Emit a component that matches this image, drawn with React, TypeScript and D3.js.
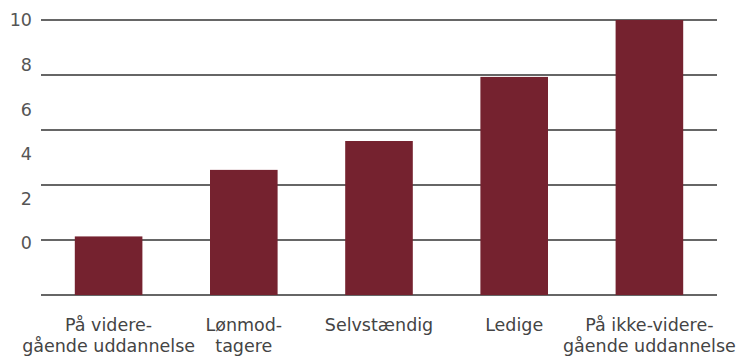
import React from "react";
import * as d3 from "d3";

const categories = [
  ["På videre-", "gående uddannelse"],
  ["Lønmod-", "tagere"],
  ["Selvstændig"],
  ["Ledige"],
  ["På ikke-videre-", "gående uddannelse"],
];
const values = [2.13, 4.55, 5.6, 7.93, 10];
const tickValues = [0, 2, 4, 6, 8, 10];

const W = 740;
const H = 356;
const FONT = "'DejaVu Sans', sans-serif";

export default function App() {
  const x = d3
    .scaleBand<number>()
    .domain(d3.range(categories.length))
    .range([41, 717])
    .paddingInner(0.5)
    .paddingOuter(0.25);
  const y = d3.scaleLinear().domain([0, 10]).range([295, 20]);
  const yLabel = d3.scaleLinear().domain([0, 10]).range([243, 20]);

  return (
    <svg
      width={W}
      height={H}
      style={{ position: "absolute", left: 0, top: 0, background: "#fff" }}
    >
      {tickValues.map((t) => (
        <line
          key={"g" + t}
          x1={41}
          x2={717}
          y1={y(t)}
          y2={y(t)}
          stroke="#333"
          strokeWidth={1.3}
        />
      ))}
      {tickValues.map((t) => (
        <text
          key={"l" + t}
          x={32}
          y={yLabel(t)}
          dy="0.36em"
          textAnchor="end"
          fontFamily={FONT}
          fontSize={17.5}
          fill="#555"
        >
          {t}
        </text>
      ))}
      {values.map((v, i) => (
        <rect
          key={"b" + i}
          x={x(i)}
          y={y(v)}
          width={x.bandwidth()}
          height={y(0) - y(v)}
          fill="#75222F"
        />
      ))}
      {categories.map((lines, i) => (
        <text
          key={"c" + i}
          x={(x(i) as number) + x.bandwidth() / 2}
          textAnchor="middle"
          fontFamily={FONT}
          fontSize={17.5}
          fill="#444"
        >
          {lines.map((ln, j) => (
            <tspan key={j} x={(x(i) as number) + x.bandwidth() / 2} y={331 + j * 21}>
              {ln}
            </tspan>
          ))}
        </text>
      ))}
    </svg>
  );
}
